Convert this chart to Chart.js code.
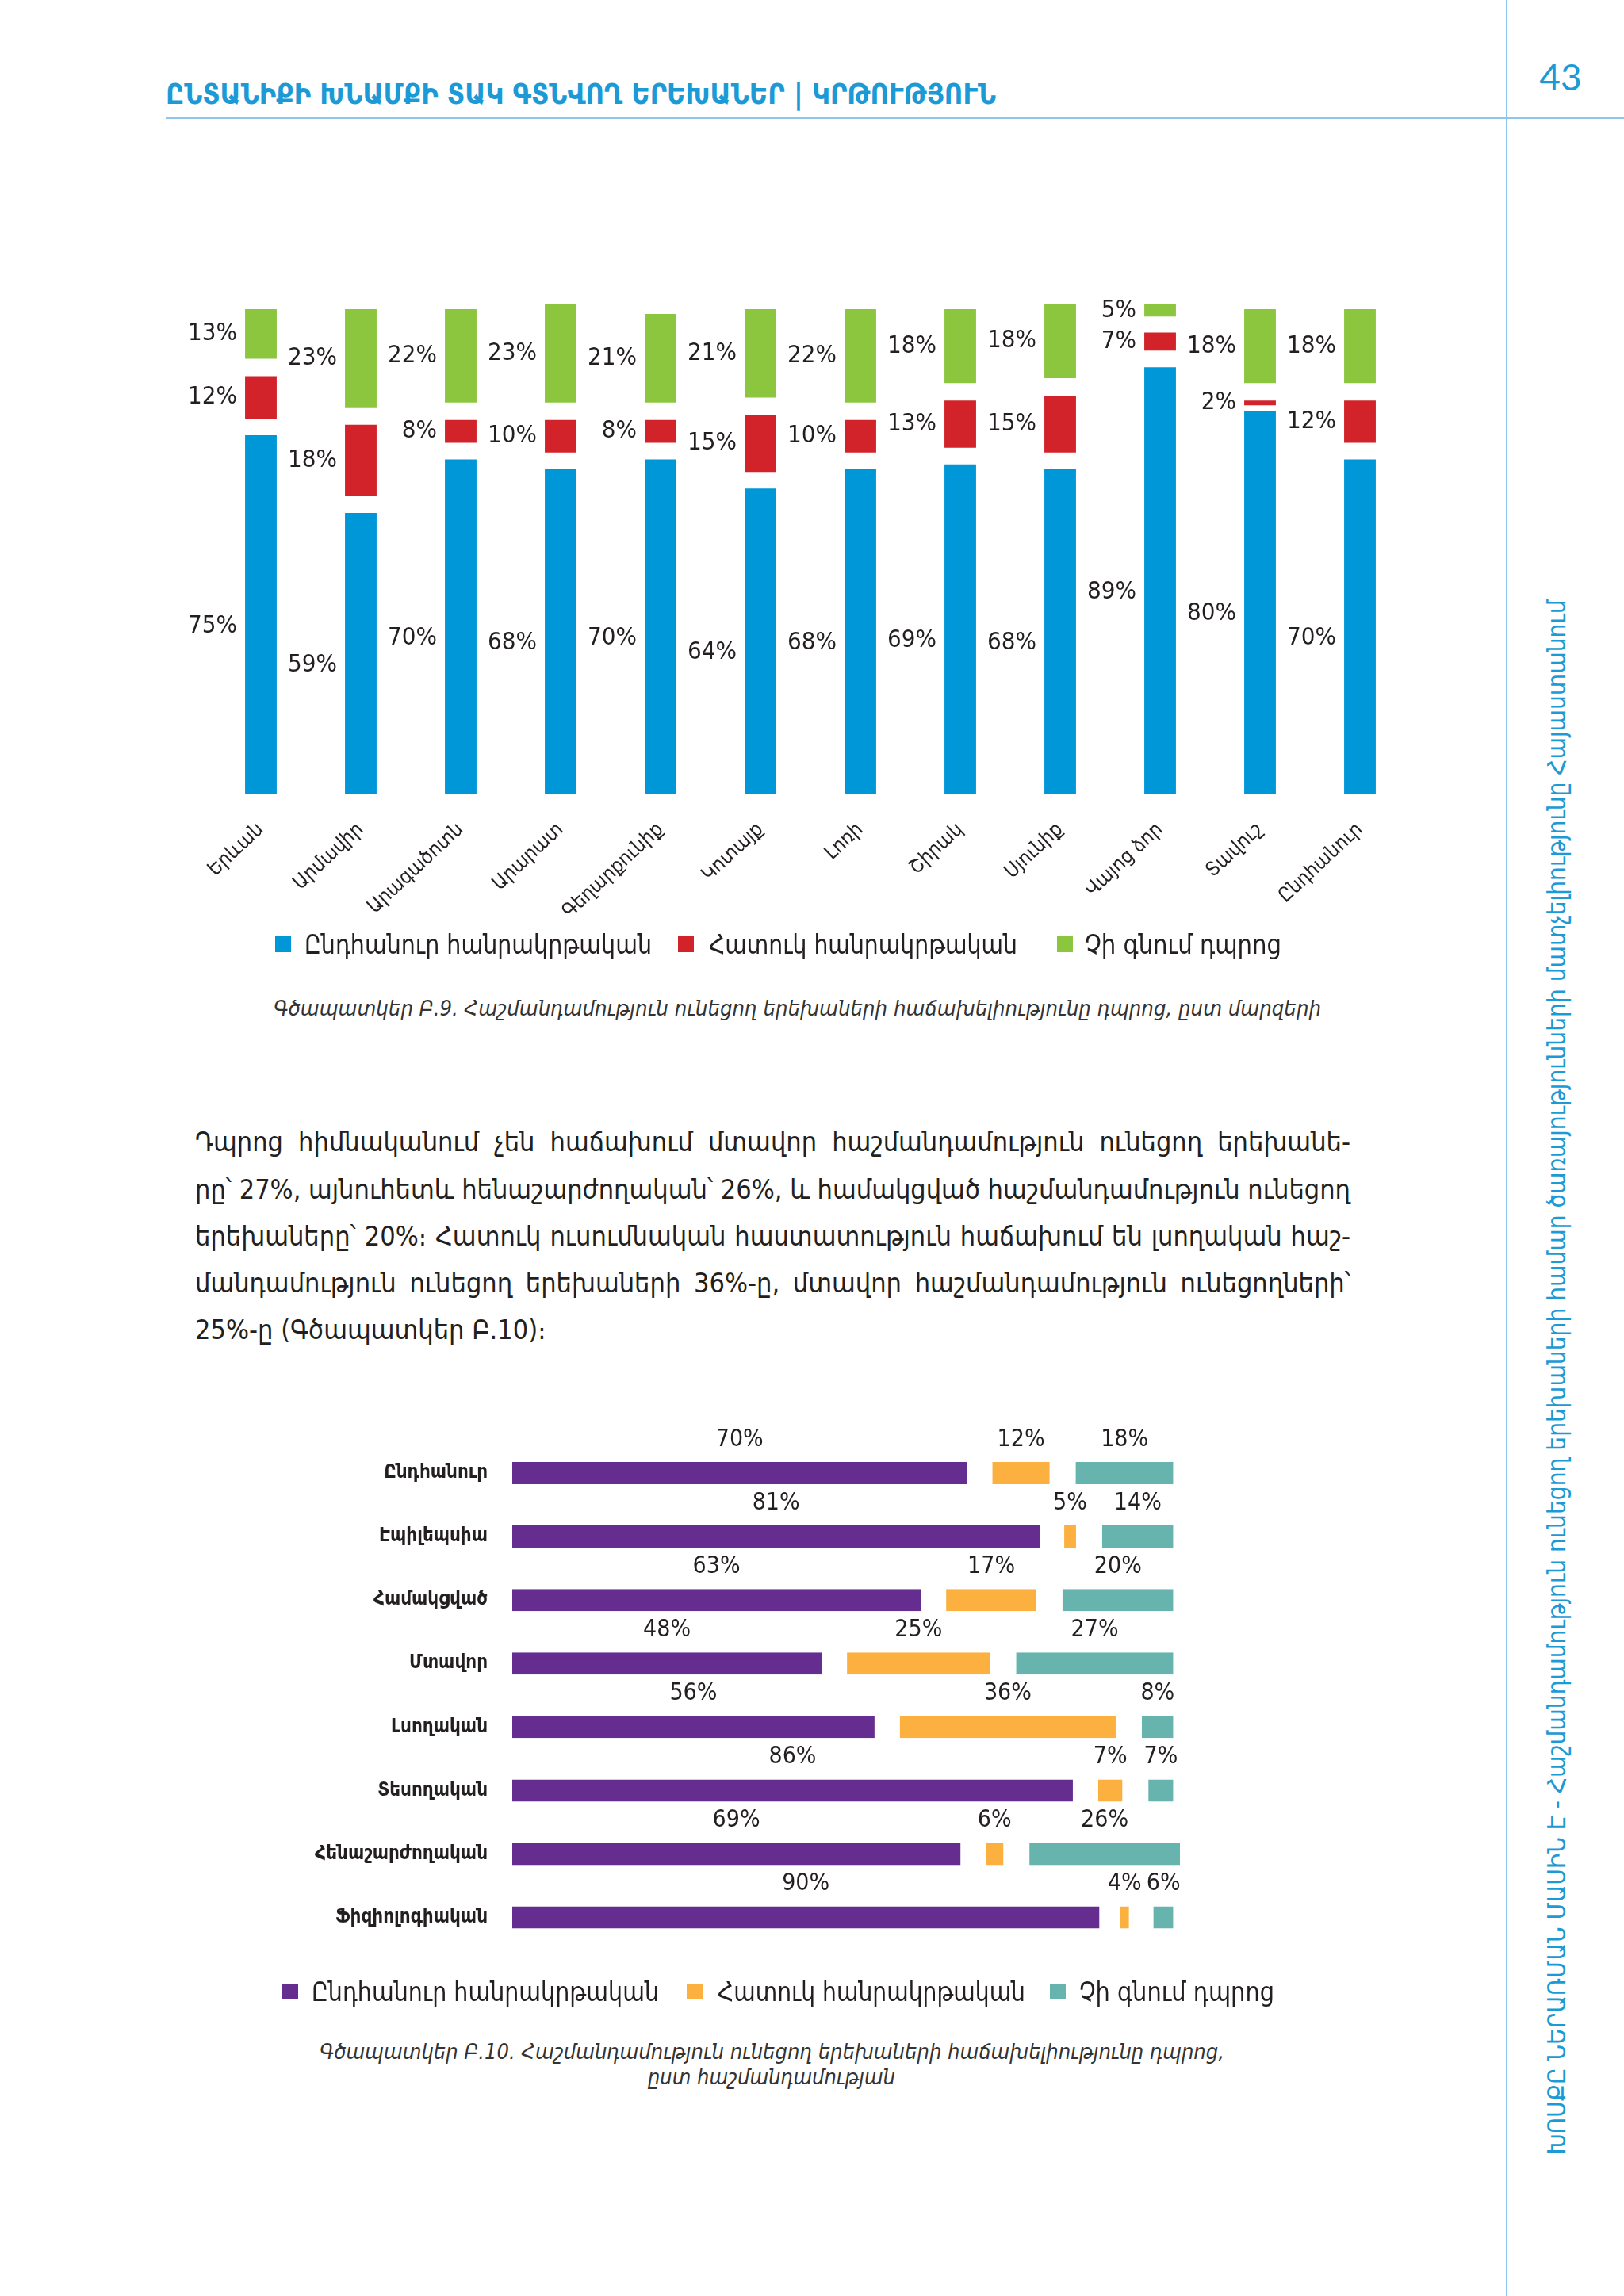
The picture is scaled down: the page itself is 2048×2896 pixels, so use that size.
<!DOCTYPE html>
<html lang="hy">
<head>
<meta charset="utf-8">
<title>Գծապատկեր Բ.9 և Բ.10</title>
<script src="https://cdn.jsdelivr.net/npm/chart.js@4.4.1/dist/chart.umd.min.js"></script>
<style>
  html, body { margin: 0; padding: 0; background: #fff; }
  #page {
    position: relative; width: 2048px; height: 2896px; overflow: hidden; background: #fff;
    font-family: "DejaVu Sans Condensed", "DejaVu Sans", sans-serif; font-stretch: condensed; color: #231f20;
  }
  .box { position: absolute; }
  .rule-h { position: absolute; left: 209px; top: 148px; width: 1839px; height: 2px; background: #8ec5ea; }
  .rule-v { position: absolute; left: 1899px; top: 0; width: 2px; height: 2896px; background: #8ec5ea; }
  .sq { position: absolute; width: 20px; height: 20px; }
</style>
</head>
<body>
<div id="page">
  <div class="rule-h"></div>
  <div class="rule-v"></div>
  <div class="box" style="left:200px;top:340px;width:1620px;height:900px;"><canvas id="regionChart"></canvas></div>
  <div class="box" style="left:240px;top:1770px;width:1300px;height:734px;"><canvas id="disChart"></canvas></div>
</div>
<script>
/* Գծապատկեր Բ.9 — ըստ մարզերի */
const regions      = ['Երևան', 'Արմավիր', 'Արագածոտն', 'Արարատ', 'Գեղարքունիք', 'Կոտայք',
                      'Լոռի', 'Շիրակ', 'Սյունիք', 'Վայոց ձոր', 'Տավուշ', 'Ընդհանուր'];
const regGeneral   = [75, 59, 70, 68, 70, 64, 68, 69, 68, 89, 80, 70];
const regSpecial   = [12, 18, 8, 10, 8, 15, 10, 13, 15, 7, 2, 12];
const regNotAttend = [13, 23, 22, 23, 21, 21, 22, 18, 18, 5, 18, 18];

/* Գծապատկեր Բ.10 — ըստ հաշմանդամության */
const disabilities = ['Ընդհանուր', 'Էպիլեպսիա', 'Համակցված', 'Մտավոր', 'Լսողական',
                      'Տեսողական', 'Հենաշարժողական', 'Ֆիզիոլոգիական'];
const disGeneral   = [70, 81, 63, 48, 56, 86, 69, 90];
const disSpecial   = [12, 5, 17, 25, 36, 7, 6, 4];
const disNotAttend = [18, 14, 20, 27, 8, 7, 26, 6];

const seriesNames  = ['Ընդհանուր հանրակրթական', 'Հատուկ հանրակրթական', 'Չի գնում դպրոց'];

const topColors    = ['#0097d8', '#d2232a', '#8cc63f'];
const bottomColors = ['#652d8f', '#fbb040', '#67b3ad'];

const ARM_FONT = "'DejaVu Sans Condensed', 'DejaVu Sans', sans-serif";
const NUM_FONT = "'Liberation Sans Narrow', 'DejaVu Sans Condensed', sans-serif";
const INK      = '#231f20';
const BLUE_TXT = '#1b9ad6';

const page = document.getElementById('page');

function addText(txt, x, cy, size, o = {}) {
  const d = document.createElement('div');
  d.textContent = txt;
  d.style.cssText = 'position:absolute;white-space:nowrap;transform-origin:0 50%;'
    + 'left:' + x + 'px;top:' + (cy - size / 2) + 'px;font-size:' + size + 'px;line-height:' + size + 'px;';
  d.style.fontFamily = o.font || ARM_FONT;
  if (o.weight) d.style.fontWeight = o.weight;
  if (o.italic) d.style.fontStyle = 'italic';
  d.style.color = o.color || INK;
  page.appendChild(d);
  const w = d.getBoundingClientRect().width;
  if (o.width) {
    d.style.transform = 'scaleX(' + (o.width / w) + ')';
    if (o.center) d.style.left = (x - o.width / 2) + 'px';
  } else if (o.center) {
    d.style.left = (x - w / 2) + 'px';
  }
  return d;
}

// header, page number, side title
addText('ԸՆՏԱՆԻՔԻ ԽՆԱՄՔԻ ՏԱԿ ԳՏՆՎՈՂ ԵՐԵԽԱՆԵՐ | ԿՐԹՈՒԹՅՈՒՆ', 209, 119, 35,
        { weight: 'bold', color: BLUE_TXT, width: 1047 });
addText('43', 1968, 97, 46, { font: 'Lato, "DejaVu Sans", sans-serif', color: BLUE_TXT, center: true });

(function () {
  const d = document.createElement('div');
  d.textContent = 'ԽՈՍՔԸ ՆԵՐԱՌՄԱՆ ՄԱՍԻՆ Է - Հաշմանդամություն ունեցող երեխաների համար ծառայությունների մատչելիությունը Հայաստանում';
  d.style.cssText = 'position:absolute;white-space:nowrap;font-size:32px;line-height:32px;left:1963px;top:1737px;color:' + BLUE_TXT;
  d.style.fontFamily = ARM_FONT;
  page.appendChild(d);
  const w = d.getBoundingClientRect().width;
  d.style.transform = 'translate(-50%, -50%) rotate(-90deg) scaleX(' + (1961 / w) + ')';
})();

// legends
function addLegend(colors, sqX, txtX, txtW, cy) {
  seriesNames.forEach((name, i) => {
    const s = document.createElement('div');
    s.className = 'sq';
    s.style.left = sqX[i] + 'px';
    s.style.top = (cy - 10) + 'px';
    s.style.background = colors[i];
    page.appendChild(s);
    addText(name, txtX[i], cy, 33, { width: txtW[i] });
  });
}
addLegend(topColors, [347, 855, 1333], [384, 894, 1368], [438, 389, 248], 1191);
addLegend(bottomColors, [356, 866, 1324], [393, 905, 1361], [438, 388, 246], 2512);

// captions
addText('Գծապատկեր Բ.9. Հաշմանդամություն ունեցող երեխաների հաճախելիությունը դպրոց, ըստ մարզերի',
        345, 1271, 27, { italic: true, color: '#333', width: 1321 });
addText('Գծապատկեր Բ.10. Հաշմանդամություն ունեցող երեխաների հաճախելիությունը դպրոց,',
        973, 2587, 27, { italic: true, color: '#333', width: 1141, center: true });
addText('ըստ հաշմանդամության', 973, 2619, 27, { italic: true, color: '#333', width: 312, center: true });

// body paragraph, justified line by line
const paraLines = [
  'Դպրոց հիմնականում չեն հաճախում մտավոր հաշմանդամություն ունեցող երեխանե-',
  'րը՝ 27%, այնուհետև հենաշարժողական՝ 26%, և համակցված հաշմանդամություն ունեցող',
  'երեխաները՝ 20%։ Հատուկ ուսումնական հաստատություն հաճախում են լսողական հաշ-',
  'մանդամություն ունեցող երեխաների 36%-ը, մտավոր հաշմանդամություն ունեցողների՝',
  '25%-ը (Գծապատկեր Բ.10)։'
];
const paraY = [1440, 1500, 1559, 1618, 1677];
paraLines.forEach((ln, i) => {
  const d = addText(ln, 246, paraY[i], 34);
  if (i < paraLines.length - 1) {
    const w = d.getBoundingClientRect().width;
    const n = (ln.match(/ /g) || []).length;
    d.style.wordSpacing = ((1457 - w) / n) + 'px';
  }
});

// ---- charts ----
Chart.defaults.font.family = ARM_FONT;
Chart.defaults.color = INK;

function edge(b, size) { return Math.min(b || 0, Math.abs(size) / 2); }

// segment length in pixels, for keeping thin segments visible
function segPx(c, axis) {
  const s = c.chart.scales[axis];
  return Math.abs(s.getPixelForValue(0) - s.getPixelForValue(c.raw || 0));
}

// value labels left of each column segment
const columnLabels = {
  id: 'columnLabels',
  afterDatasetsDraw(chart) {
    const ctx = chart.ctx;
    ctx.save();
    ctx.font = '31px ' + NUM_FONT;
    ctx.fillStyle = INK;
    ctx.textAlign = 'right';
    ctx.textBaseline = 'middle';
    chart.data.datasets.forEach((ds, i) => {
      chart.getDatasetMeta(i).data.forEach((bar, j) => {
        const bw = bar.options.borderWidth;
        const h = bar.base - bar.y;
        const top = bar.y + edge(bw.top, h);
        const bottom = bar.base - edge(bw.bottom, h);
        const drop = i === 0 ? 14 : 0;
        ctx.fillText(ds.data[j] + '%', bar.x - bar.width / 2 - 10, (top + bottom) / 2 + drop);
      });
    });
    ctx.restore();
  }
};

// value labels above each row segment
const rowLabels = {
  id: 'rowLabels',
  afterDatasetsDraw(chart) {
    const ctx = chart.ctx;
    ctx.save();
    ctx.font = '30px ' + NUM_FONT;
    ctx.fillStyle = INK;
    ctx.textAlign = 'center';
    ctx.textBaseline = 'middle';
    chart.data.datasets.forEach((ds, i) => {
      chart.getDatasetMeta(i).data.forEach((bar, j) => {
        const bw = bar.options.borderWidth;
        const w = bar.x - bar.base;
        const left = bar.base + edge(bw.left, w);
        const right = bar.x - edge(bw.right, w);
        ctx.fillText(ds.data[j] + '%', (left + right) / 2, bar.y - 42);
      });
    });
    ctx.restore();
  }
};

new Chart(document.getElementById('regionChart'), {
  type: 'bar',
  data: {
    labels: regions,
    datasets: [
      { label: seriesNames[0], data: regGeneral,   backgroundColor: topColors[0], borderWidth: { top: 6 } },
      { label: seriesNames[1], data: regSpecial,   backgroundColor: topColors[1],
        borderWidth: c => ({ top: 5, bottom: Math.max(0, Math.min(15, segPx(c, 'y') - 11)) }) },
      { label: seriesNames[2], data: regNotAttend, backgroundColor: topColors[2], borderWidth: { bottom: 17 } },
    ],
  },
  options: {
    responsive: true,
    maintainAspectRatio: false,
    animation: false,
    datasets: {
      bar: {
        borderColor: '#ffffff', borderSkipped: false, inflateAmount: 0,
        categoryPercentage: 1, barPercentage: 0.317,
      },
    },
    layout: { padding: { left: 66, right: 42, top: 25.5, bottom: 8 } },
    plugins: { legend: { display: false }, tooltip: { enabled: false } },
    scales: {
      x: {
        stacked: true,
        grid: { display: false, drawTicks: false },
        border: { display: false },
        ticks: { autoSkip: false, minRotation: 43, maxRotation: 43, padding: 30, color: INK, font: { size: 25 } },
        afterFit: s => { s.height = 230; },
      },
      y: { stacked: true, display: false, min: 0, max: 104 },
    },
  },
  plugins: [columnLabels],
});

new Chart(document.getElementById('disChart'), {
  type: 'bar',
  data: {
    labels: disabilities,
    datasets: [
      { label: seriesNames[0], data: disGeneral,   backgroundColor: bottomColors[0], borderWidth: { right: 10 } },
      { label: seriesNames[1], data: disSpecial,   backgroundColor: bottomColors[1], borderWidth: { left: 22, right: 6 } },
      { label: seriesNames[2], data: disNotAttend, backgroundColor: bottomColors[2], borderWidth: { left: 27 } },
    ],
  },
  options: {
    indexAxis: 'y',
    responsive: true,
    maintainAspectRatio: false,
    animation: false,
    datasets: {
      bar: {
        borderColor: '#ffffff', borderSkipped: false, inflateAmount: 0,
        categoryPercentage: 1, barPercentage: 0.35,
      },
    },
    layout: { padding: { left: 0, right: 27, top: 48, bottom: 45 } },
    plugins: { legend: { display: false }, tooltip: { enabled: false } },
    scales: {
      x: { stacked: true, display: false, min: 0, max: 104 },
      y: {
        stacked: true,
        grid: { display: false, drawTicks: false },
        border: { display: false },
        ticks: { padding: 31, color: INK, font: { size: 24, weight: 'bold' } },
        afterFit: s => { s.width = 406; },
      },
    },
  },
  plugins: [rowLabels],
});
</script>
</body>
</html>
